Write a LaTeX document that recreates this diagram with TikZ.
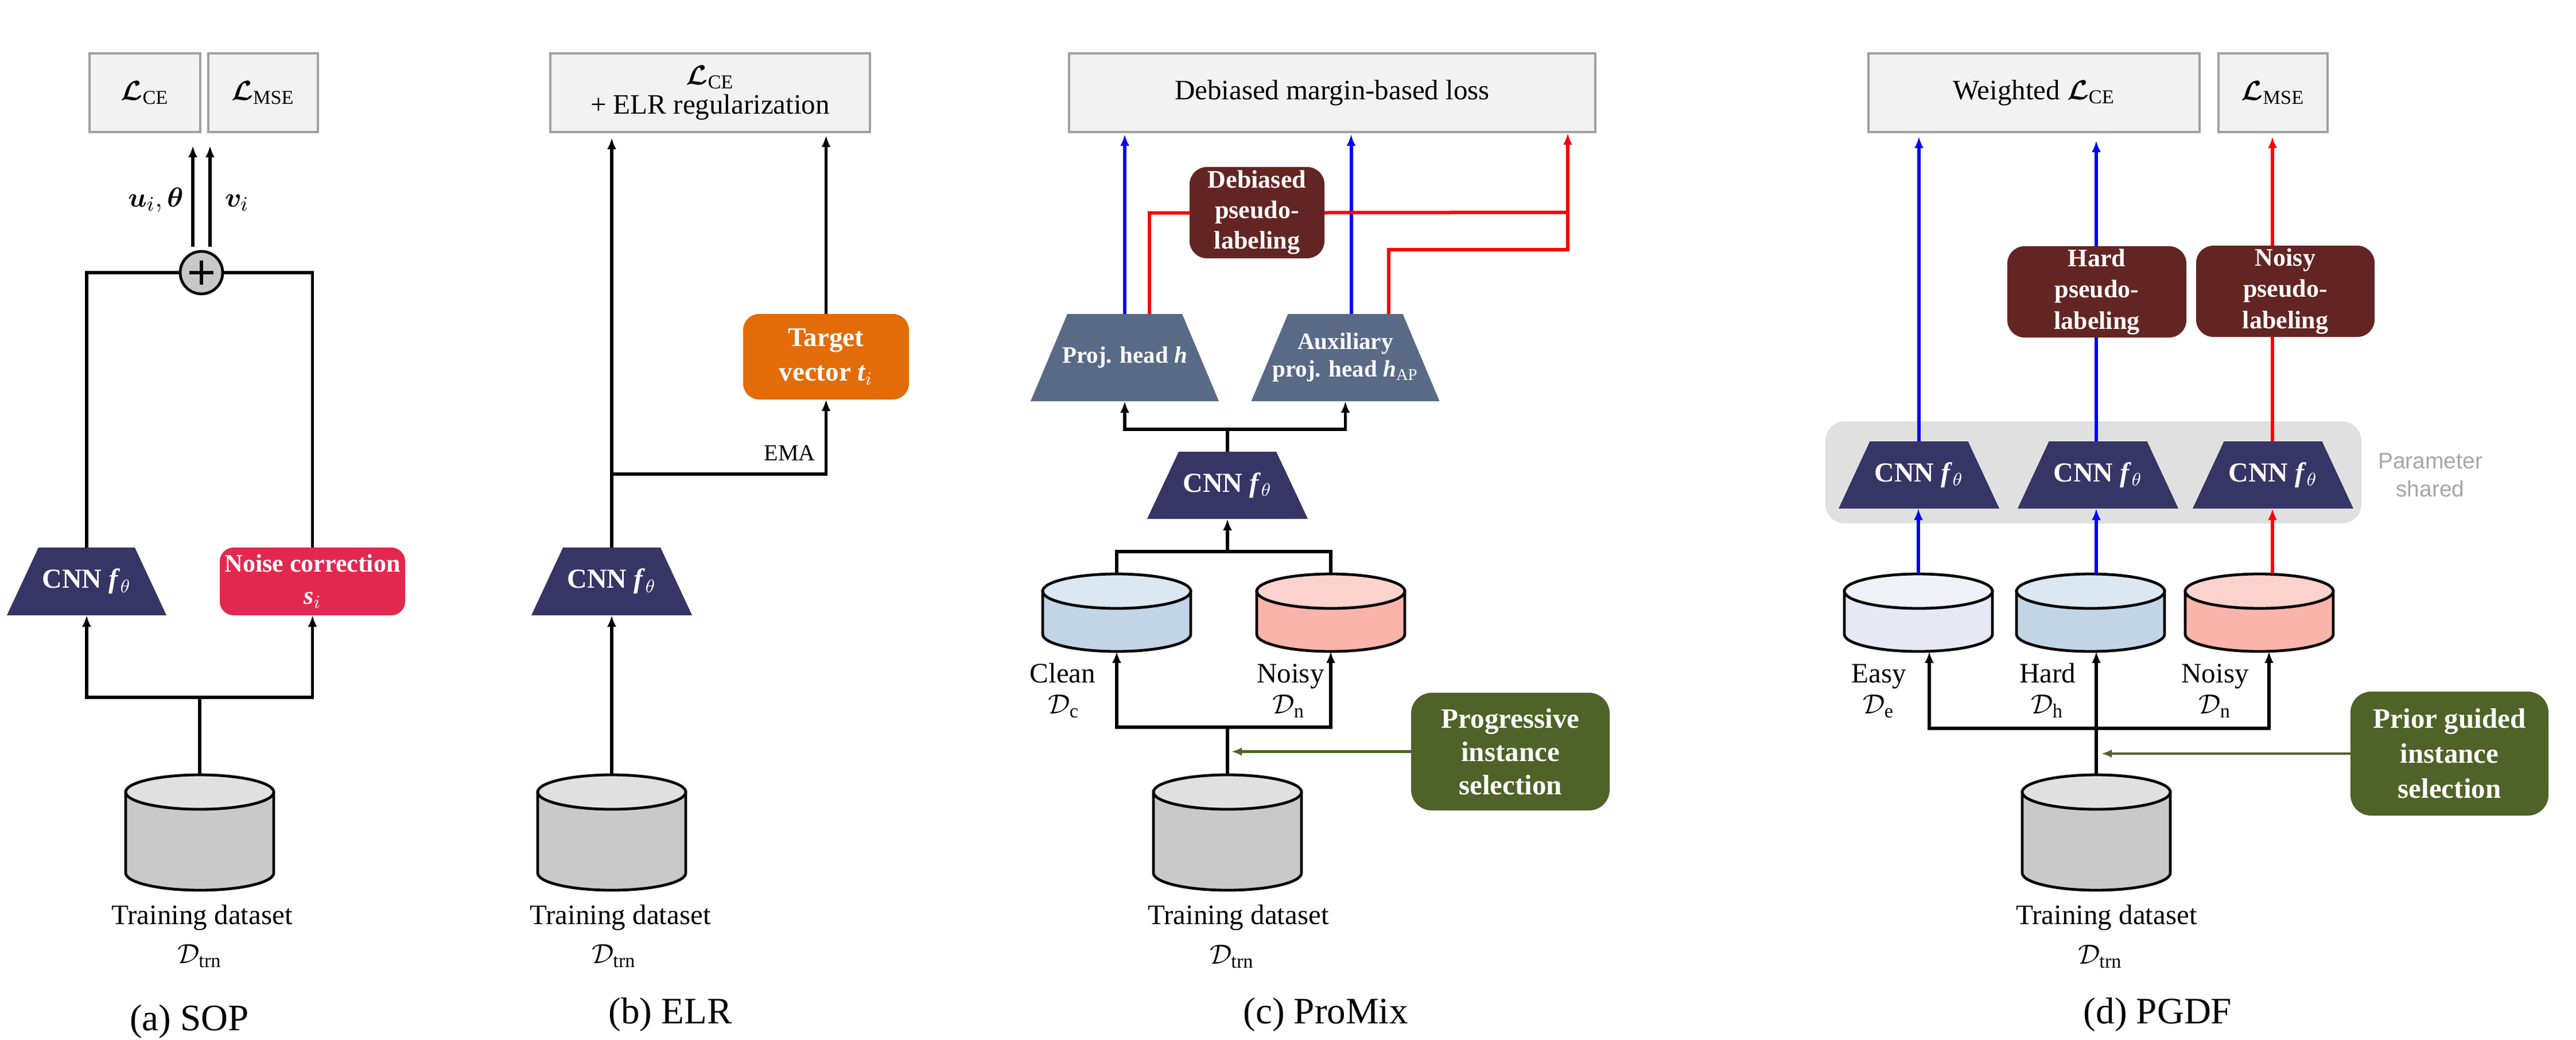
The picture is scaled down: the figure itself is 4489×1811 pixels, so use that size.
\documentclass[tikz,border=0pt]{standalone}
\usepackage{amsmath,bm}
\usepackage{fontspec}
\setmainfont{Liberation Serif}
\setsansfont{Liberation Sans}
\usetikzlibrary{arrows.meta,calc}
\definecolor{cnnnavy}{HTML}{373566}
\definecolor{crim}{HTML}{E3284F}
\definecolor{orng}{HTML}{E36C09}
\definecolor{darkmaroon}{HTML}{632523}
\definecolor{olivegreen}{HTML}{4F6228}
\definecolor{slate}{HTML}{596A87}
\definecolor{lossfill}{HTML}{F2F2F2}
\definecolor{lossdraw}{HTML}{A0A0A0}
\definecolor{cyltop}{HTML}{E0E0E0}
\definecolor{cylbody}{HTML}{C9C9C9}
\definecolor{cleantop}{HTML}{DBE7F1}
\definecolor{cleanbody}{HTML}{C2D5E6}
\definecolor{noisytop}{HTML}{FCD2CD}
\definecolor{noisybody}{HTML}{FBB4A9}
\definecolor{easytop}{HTML}{F0F1F8}
\definecolor{easybody}{HTML}{E6E8F4}
\definecolor{sharedbg}{HTML}{E0E0E0}
\definecolor{sharedtext}{HTML}{A6A6A6}
\definecolor{plusgray}{HTML}{C8C8C8}
\definecolor{pblue}{HTML}{0000FF}
\definecolor{pred}{HTML}{FF0000}
% cylinder: name, cx, ytop, ybot, top fill, body fill
\newcommand\drawcyl[6]{%
  \pgfmathsetmacro\cyL{#2-129}%
  \pgfmathsetmacro\cyR{#2+129}%
  \pgfmathsetmacro\cyT{#3+30}%
  \pgfmathsetmacro\cyB{#4-30}%
  \filldraw[cylline,fill=#6] (\cyL,\cyT) -- (\cyL,\cyB) .. controls (\cyL,{\cyB+16.57}) and ({#2-71.25},#4) .. (#2,#4) .. controls ({#2+71.25},#4) and (\cyR,{\cyB+16.57}) .. (\cyR,\cyB) -- (\cyR,\cyT) -- cycle;
  \filldraw[cylline,fill=#5] (\cyL,\cyT) .. controls (\cyL,{\cyT-16.57}) and ({#2-71.25},#3) .. (#2,#3) .. controls ({#2+71.25},#3) and (\cyR,{\cyT-16.57}) .. (\cyR,\cyT) .. controls (\cyR,{\cyT+16.57}) and ({#2+71.25},{#3+60}) .. (#2,{#3+60}) .. controls ({#2-71.25},{#3+60}) and (\cyL,{\cyT+16.57}) .. cycle;
  \node[minimum width=64.5pt,minimum height={(#4-#3)*0.25pt}] (#1) at (#2,{(#3+#4)/2}) {};
}
% trapezoid: name, cx, cy, half top, half bottom, half height, fill, font, text
\newcommand\trapnode[9]{%
  \fill[#7] ({#2-#4},{#3-#6}) -- ({#2+#4},{#3-#6}) -- ({#2+#5},{#3+#6}) -- ({#2-#5},{#3+#6}) -- cycle;
  \node[text=white,font=#8,align=center,minimum width={2*#5*0.25pt},minimum height={2*#6*0.25pt}] (#1) at (#2,#3) {#9};
}
\begin{document}
\begin{tikzpicture}[x=0.25pt,y=-0.25pt,
  every node/.style={inner sep=0pt,outer sep=0pt},
  cylline/.style={line width=1.2pt,draw=black},
  conn/.style={line width=1.4pt},
  arr/.style={conn,-{Latex[length=5pt,width=4pt]}},
  bline/.style={line width=1.5pt,draw=pblue},
  barr/.style={bline,-{Latex[length=5pt,width=4pt]}},
  rline/.style={line width=1.5pt,draw=pred},
  rarr/.style={rline,-{Latex[length=5pt,width=4pt]}},
  garr/.style={line width=1.1pt,draw=olivegreen,-{Latex[length=4.5pt,width=3.6pt]}},
  loss/.style={draw=lossdraw,fill=lossfill,line width=1pt,minimum height=34.25pt,font=\fontsize{12.25}{15}\selectfont,align=center},
  lbl/.style={font=\fontsize{12.25}{15}\selectfont,anchor=base},
  captxt/.style={font=\fontsize{16.25}{19}\selectfont,anchor=base},
  wbox/.style={rounded corners=6pt,text=white,align=center},
]
\useasboundingbox (0,0) rectangle (4489,1811);
\fill[white] (0,0) rectangle (4489,1811);
\def\cnnfont{\bfseries\fontsize{12}{14}\selectfont}
\def\cnntext{CNN \textit{f}$_{\theta}$}

%================ (a) SOP ================
\node[loss,minimum width=48.25pt] (lceA) at (252.5,161.5) {$\bm{\mathcal{L}}_{\text{CE}}$};
\node[loss,minimum width=47.75pt] (lmseA) at (458.5,161.5) {$\bm{\mathcal{L}}_{\text{MSE}}$};
\node[circle,draw,line width=1.2pt,fill=plusgray,minimum size=18.5pt] (plus) at (351,475) {};
\draw[line width=1.3pt] ($(plus)+(-21,0)$) -- ($(plus)+(21,0)$);
\draw[line width=1.3pt] ($(plus)+(0,-21)$) -- ($(plus)+(0,21)$);
\coordinate (ua) at ($(plus.north)+(-15,-8)$);
\coordinate (va) at ($(plus.north)+(15,-8)$);
\draw[arr,shorten >=6pt] (ua) -- (ua |- lceA.south);
\draw[arr,shorten >=6pt] (va) -- (va |- lmseA.south);
\node[lbl,anchor=base east] at (320,360) {$\bm{u}_i, \bm{\theta}$};
\node[lbl,anchor=base west] at (392,360) {$\bm{v}_i$};
\trapnode{cnnA}{151}{1013}{84}{139}{59}{cnnnavy}{\cnnfont}{\cnntext}
\node[wbox,fill=crim,minimum width=80.75pt,minimum height=29.5pt,font=\bfseries\fontsize{11}{14}\selectfont] (noise) at (544.5,1013) {Noise correction\\{\itshape s}$_{i}$};
\draw[conn] (cnnA.north) |- (plus.west);
\draw[conn] (noise.north) |- (plus.east);
\drawcyl{dsA}{348}{1350}{1551}{cyltop}{cylbody}
\coordinate (jA) at (348,1215);
\draw[conn] (dsA.north) -- (jA);
\draw[arr] (jA) -| (cnnA.south);
\draw[arr] (jA) -| (noise.south);
\node[lbl] at (352,1610) {Training dataset};
\node[lbl] at (348,1678) {$\mathcal{D}_{\text{trn}}$};
\node[captxt] at (330,1795) {(a) SOP};

%================ (b) ELR ================
\node[loss,minimum width=139.25pt,font=\fontsize{12.25}{12.75}\selectfont] (lceB) at (1237.5,161.5) {$\bm{\mathcal{L}}_{\text{CE}}$\\+ ELR regularization};
\trapnode{cnnB}{1066}{1013}{85}{140}{59}{cnnnavy}{\cnnfont}{\cnntext}
\drawcyl{dsB}{1066}{1350}{1551}{cyltop}{cylbody}
\draw[arr] (dsB.north) -- (dsB.north |- cnnB.south);
\draw[arr,shorten >=2.5pt] (cnnB.north) -- (cnnB.north |- lceB.south);
\node[wbox,fill=orng,rounded corners=7pt,minimum width=72.25pt,minimum height=37.25pt,font=\bfseries\fontsize{11.75}{15}\selectfont] (tgt) at (1439.5,621.5) {Target\\vector {\itshape t}$_{i}$};
\coordinate (jB) at (1066,826);
\draw[arr] (jB) -| (tgt.south);
\draw[arr,shorten >=1.5pt] (tgt.north) -- (tgt.north |- lceB.south);
\node[font=\fontsize{10}{12}\selectfont] (ema) at (1376,789) {EMA};
\node[lbl] at (1081,1610) {Training dataset};
\node[lbl] at (1070,1678) {$\mathcal{D}_{\text{trn}}$};
\node[captxt] at (1168,1783) {(b) ELR};

%================ (c) ProMix ================
\node[loss,minimum width=229.25pt] (lossC) at (2321.5,161.5) {Debiased margin-based loss};
\trapnode{cnnC}{2139}{845.5}{85}{140}{58.5}{cnnnavy}{\cnnfont}{\cnntext}
\trapnode{ph}{1960}{623}{100}{164}{76}{slate}{\bfseries\fontsize{10.25}{12}\selectfont}{Proj. head \textit{h}}
\trapnode{aux}{2344.5}{623}{100}{164}{76}{slate}{\bfseries\fontsize{10.25}{12}\selectfont}{Auxiliary\\proj. head \textit{h}$_{\text{\mdseries AP}}$}
\coordinate (jC1) at (2139,748);
\draw[conn] (cnnC.north) -- (jC1);
\draw[arr] (jC1) -| (ph.south);
\draw[arr] (jC1) -| (aux.south);
\draw[barr,shorten >=1pt] (ph.north) -- (ph.north |- lossC.south);
\coordinate (ab) at ($(aux.north)+(10,0)$);
\draw[barr,shorten >=1pt] (ab) -- (ab |- lossC.south);
\coordinate (r1) at ($(ph.north)+(43,0)$);
\coordinate (r2) at ($(aux.north)+(75,0)$);
\coordinate (rj) at (2732,370);
\coordinate (rk) at (2732,435);
\draw[rline] (r2) |- (rk) -- (rj);
\node[wbox,fill=darkmaroon,rounded corners=7.5pt,minimum width=58.75pt,minimum height=39.75pt,font=\bfseries\fontsize{11}{13.25}\selectfont] (dpl) at (2190.5,370.5) {Debiased\\pseudo-\\labeling};
\draw[rline] (r1) |- (dpl.west);
\draw[rline] (dpl.east) -- (rj);
\draw[rarr,shorten >=0.5pt] (rj) -- (rj |- lossC.south);
\drawcyl{clean}{1946}{1000}{1135}{cleantop}{cleanbody}
\drawcyl{noisyC}{2319}{1000}{1135}{noisytop}{noisybody}
\coordinate (jC2) at (2139,961);
\draw[conn] (clean.north) |- (jC2) -| (noisyC.north);
\draw[arr] (jC2) -- (cnnC.south);
\drawcyl{dsC}{2139}{1350}{1551}{cyltop}{cylbody}
\coordinate (jC3) at (2139,1267);
\draw[conn] (dsC.north) -- (jC3);
\draw[arr] (jC3) -| (clean.south);
\draw[arr] (jC3) -| (noisyC.south);
\node[wbox,fill=olivegreen,rounded corners=9pt,minimum width=86.5pt,minimum height=51.25pt,font=\bfseries\fontsize{12.25}{14.5}\selectfont] (pis) at (2632,1309.5) {Progressive\\instance\\selection};
\draw[garr,shorten >=1.75pt] (pis.west) -- (pis.west -| jC3);
\node[lbl] at (1852,1189) {Clean};
\node[lbl] at (1854,1243) {$\mathcal{D}_{\text{c}}$};
\node[lbl] at (2249,1189) {Noisy};
\node[lbl] at (2246,1243) {$\mathcal{D}_{\text{n}}$};
\node[lbl] at (2158,1610) {Training dataset};
\node[lbl] at (2147,1679) {$\mathcal{D}_{\text{trn}}$};
\node[captxt] at (2310,1783) {(c) ProMix};

%================ (d) PGDF ================
\node[loss,minimum width=144.25pt] (wce) at (3544.5,161.5) {Weighted $\bm{\mathcal{L}}_{\text{CE}}$};
\node[loss,minimum width=47.5pt] (lmseD) at (3961,161.5) {$\bm{\mathcal{L}}_{\text{MSE}}$};
\node[fill=sharedbg,rounded corners=8.5pt,minimum width=233.5pt,minimum height=44.5pt] (shared) at (3648,823) {};
\node[font=\sffamily\fontsize{9.75}{12.25}\selectfont,text=sharedtext,align=center] (pslbl) at (4235,828) {Parameter\\shared};
\trapnode{cnnD1}{3344}{827.5}{85.5}{140}{58.5}{cnnnavy}{\cnnfont}{\cnntext}
\trapnode{cnnD2}{3656}{827.5}{85.5}{140}{58.5}{cnnnavy}{\cnnfont}{\cnntext}
\trapnode{cnnD3}{3961}{827.5}{85.5}{140}{58.5}{cnnnavy}{\cnnfont}{\cnntext}
\node[wbox,fill=darkmaroon,rounded corners=7.5pt,minimum width=78pt,minimum height=39.75pt,font=\bfseries\fontsize{11}{13.6}\selectfont] (hpl) at (3654,508.5) {Hard\\pseudo-\\labeling};
\node[wbox,fill=darkmaroon,rounded corners=7.5pt,minimum width=77.75pt,minimum height=39.75pt,font=\bfseries\fontsize{11}{13.6}\selectfont] (npl) at (3982.5,507.5) {Noisy\\pseudo-\\labeling};
\draw[barr,shorten >=2pt] (cnnD1.north) -- (cnnD1.north |- wce.south);
\coordinate (h2) at ($(cnnD2.north)+(-3,0)$);
\draw[bline] (h2) -- (h2 |- hpl.south);
\draw[barr,shorten >=3.75pt] (h2 |- hpl.north) -- (h2 |- wce.south);
\coordinate (h3) at ($(cnnD3.north)+(-1,0)$);
\draw[rline] (h3) -- (h3 |- npl.south);
\draw[rarr,shorten >=2pt] (h3 |- npl.north) -- (h3 |- lmseD.south);
\drawcyl{easy}{3343}{1000}{1135}{easytop}{easybody}
\drawcyl{hardC}{3643}{1000}{1135}{cleantop}{cleanbody}
\drawcyl{noisyD}{3937}{1000}{1135}{noisytop}{noisybody}
\draw[barr] (easy.north) -- (easy.north |- cnnD1.south);
\coordinate (hx) at ($(hardC.north)+(10,0)$);
\draw[barr] (hx) -- (hx |- cnnD2.south);
\coordinate (nxx) at ($(noisyD.north)+(23,0)$);
\draw[rarr] (nxx) -- (nxx |- cnnD3.south);
\drawcyl{dsD}{3653}{1350}{1551}{cyltop}{cylbody}
\coordinate (jD) at (3653,1269);
\draw[arr] (dsD.north) -- (dsD.north |- hardC.south);
\coordinate (ex) at ($(easy.south)+(19,0)$);
\coordinate (nx) at ($(noisyD.south)+(17,0)$);
\draw[arr] (jD) -| (ex);
\draw[arr] (jD) -| (nx);
\node[wbox,fill=olivegreen,rounded corners=9pt,minimum width=86.25pt,minimum height=54pt,font=\bfseries\fontsize{12.25}{15.25}\selectfont] (pgis) at (4268.5,1313) {Prior guided\\instance\\selection};
\draw[garr,shorten >=2.25pt] (pgis.west) -- (pgis.west -| jD);
\node[lbl] at (3274,1189) {Easy};
\node[lbl] at (3274,1243) {$\mathcal{D}_{\text{e}}$};
\node[lbl] at (3568,1189) {Hard};
\node[lbl] at (3568,1243) {$\mathcal{D}_{\text{h}}$};
\node[lbl] at (3860,1189) {Noisy};
\node[lbl] at (3860,1243) {$\mathcal{D}_{\text{n}}$};
\node[lbl] at (3671,1610) {Training dataset};
\node[lbl] at (3660,1679) {$\mathcal{D}_{\text{trn}}$};
\node[captxt] at (3760,1783) {(d) PGDF};
\end{tikzpicture}
\end{document}
